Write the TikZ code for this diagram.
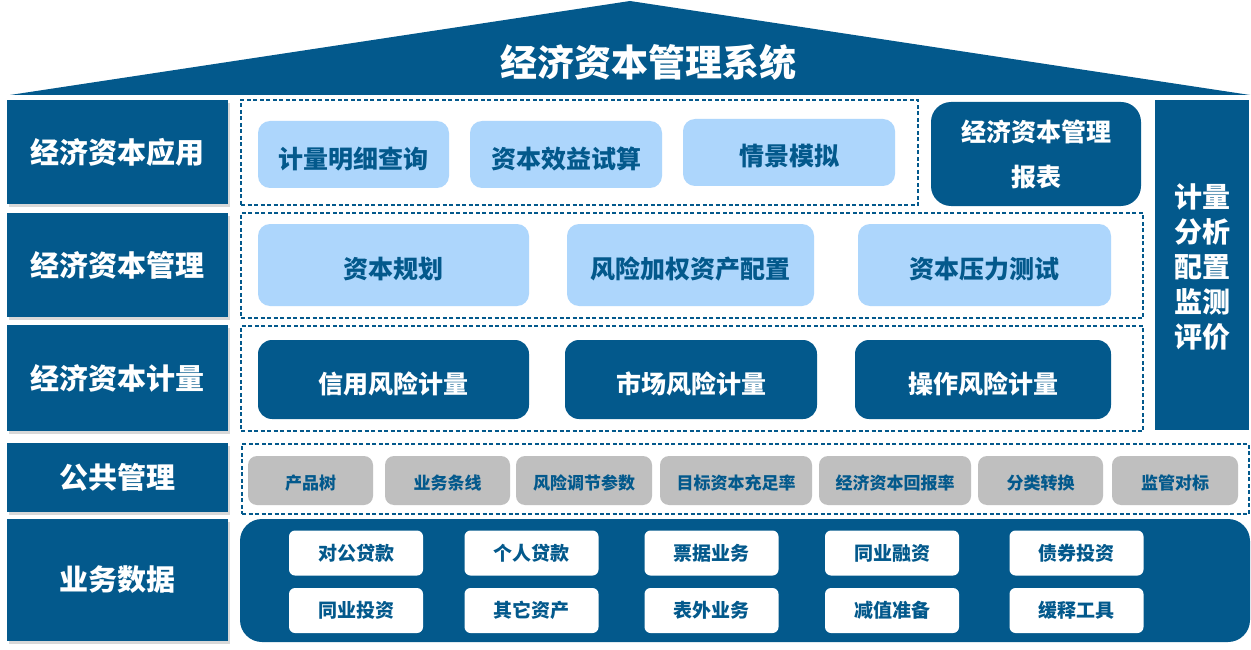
\documentclass[tikz,border=0pt]{standalone}
\usepackage{fontspec}
\setmainfont{Noto Sans CJK SC}
\usetikzlibrary{shadows}
\definecolor{dblue}{HTML}{03598C}
\definecolor{lblue}{HTML}{ADD6FC}
\definecolor{pgray}{HTML}{BFBFBF}
\tikzset{
  lbl/.style={fill=dblue, text=white, inner sep=0pt, font=\fontsize{29}{32}\selectfont\bfseries,
    drop shadow={opacity=0.3, shadow xshift=2pt, shadow yshift=-3pt}},
  dbox/.style={draw=dblue, line width=1.4pt, dash pattern=on 4pt off 2.5pt, inner sep=0pt},
  lpill/.style={fill=lblue, rounded corners=12pt, text=dblue, inner sep=0pt, text height=27pt, text depth=0pt, font=\fontsize{25}{28}\selectfont\bfseries},
  dpill/.style={fill=dblue, rounded corners=14pt, text=white, inner sep=0pt, text height=27pt, text depth=0pt, font=\fontsize{25}{28}\selectfont\bfseries},
  gpill/.style={fill=pgray, rounded corners=9pt, text=dblue, inner sep=0pt, minimum height=49pt, text height=17pt, text depth=0pt, font=\fontsize{17}{20}\selectfont\bfseries},
  wbox/.style={fill=white, rounded corners=6pt, text=dblue, inner sep=0pt, minimum width=134pt, minimum height=45pt, font=\fontsize{19}{22}\selectfont\bfseries},
}
\begin{document}
\begin{tikzpicture}[x=1pt,y=-1pt]
\useasboundingbox[fill=white] (0,0) rectangle (1251,650);
% roof
\fill[dblue] (10,95) -- (630,1) -- (1250,95) -- cycle;
\node[text=white, font=\fontsize{37}{40}\selectfont\bfseries] (title) at (648,62) {经济资本管理系统};
% left labels
\node[lbl, minimum width=221pt, minimum height=104pt] (l1) at (117.5,152) {经济资本应用};
\node[lbl, minimum width=221pt, minimum height=104pt] (l2) at (117.5,265) {经济资本管理};
\node[lbl, minimum width=221pt, minimum height=106pt] (l3) at (117.5,378) {经济资本计量};
\node[lbl, minimum width=221pt, minimum height=69pt] (l4) at (117.5,477.5) {公共管理};
\node[lbl, minimum width=221pt, minimum height=122pt] (l5) at (117.5,580) {业务数据};
% dashed frames
\node[dbox, minimum width=677pt, minimum height=105pt] (d1) at (579.5,152.5) {};
\node[dbox, minimum width=902pt, minimum height=105pt] (d2) at (692,265.5) {};
\node[dbox, minimum width=902pt, minimum height=105pt] (d3) at (692,378.5) {};
\node[dbox, minimum width=1007pt, minimum height=70pt] (d4) at (745.5,479) {};
% row 1
\node[lpill, minimum width=191pt, minimum height=67pt] (a1) at (353.5,154.5) {计量明细查询};
\node[lpill, minimum width=192pt, minimum height=67pt] (a2) at (566,154.5) {资本效益试算};
\node[lpill, minimum width=212pt, minimum height=67pt] (a3) at (789,152.5) {情景模拟};
\node[fill=dblue, rounded corners=20pt, inner sep=0pt, minimum width=210pt, minimum height=104pt, align=center, text=white,
      font=\fontsize{25}{45}\selectfont\bfseries] (rep) at (1036,154) {经济资本管理\\报表};
\node[fill=dblue, inner sep=0pt, minimum width=94pt, minimum height=330pt] (rc) at (1202,265) {};
\node[text=white, inner sep=0pt, align=center, font=\fontsize{28}{35}\selectfont\bfseries] (rct) at (rc.center) [yshift=-2.5pt] {计量\\分析\\配置\\监测\\评价};
% row 2
\node[lpill, minimum width=271pt, minimum height=82pt] (b1) at (393.5,265) {资本规划};
\node[lpill, minimum width=247pt, minimum height=82pt] (b2) at (690.5,265) {风险加权资产配置};
\node[lpill, minimum width=253pt, minimum height=82pt] (b3) at (984.5,265) {资本压力测试};
% row 3
\node[dpill, minimum width=271pt, minimum height=79pt] (c1) at (393.5,379.5) {信用风险计量};
\node[dpill, minimum width=252pt, minimum height=79pt] (c2) at (691,379.5) {市场风险计量};
\node[dpill, minimum width=256pt, minimum height=79pt] (c3) at (983,379.5) {操作风险计量};
% row 4
\node[gpill, minimum width=125pt] (g1) at (310.5,480.5) {产品树};
\node[gpill, minimum width=125pt] (g2) at (447.5,480.5) {业务条线};
\node[gpill, minimum width=136pt] (g3) at (584,480.5) {风险调节参数};
\node[gpill, minimum width=152pt] (g4) at (736,480.5) {目标资本充足率};
\node[gpill, minimum width=152pt] (g5) at (895,480.5) {经济资本回报率};
\node[gpill, minimum width=125pt] (g6) at (1040.5,480.5) {分类转换};
\node[gpill, minimum width=126pt] (g7) at (1175,480.5) {监管对标};
% bottom panel
\node[fill=dblue, rounded corners=22pt, inner sep=0pt, minimum width=1010pt, minimum height=123pt] (bp) at (745,580.5) {};
\node[wbox] (w1) at (356,553) {对公贷款};
\node[wbox] (w2) at (531.5,553) {个人贷款};
\node[wbox] (w3) at (711.5,553) {票据业务};
\node[wbox] (w4) at (892,553) {同业融资};
\node[wbox] (w5) at (1076.5,553) {债券投资};
\node[wbox] (w6) at (356,610.5) {同业投资};
\node[wbox] (w7) at (531.5,610.5) {其它资产};
\node[wbox] (w8) at (711.5,610.5) {表外业务};
\node[wbox] (w9) at (892,610.5) {减值准备};
\node[wbox] (w10) at (1076.5,610.5) {缓释工具};
\end{tikzpicture}
\end{document}
